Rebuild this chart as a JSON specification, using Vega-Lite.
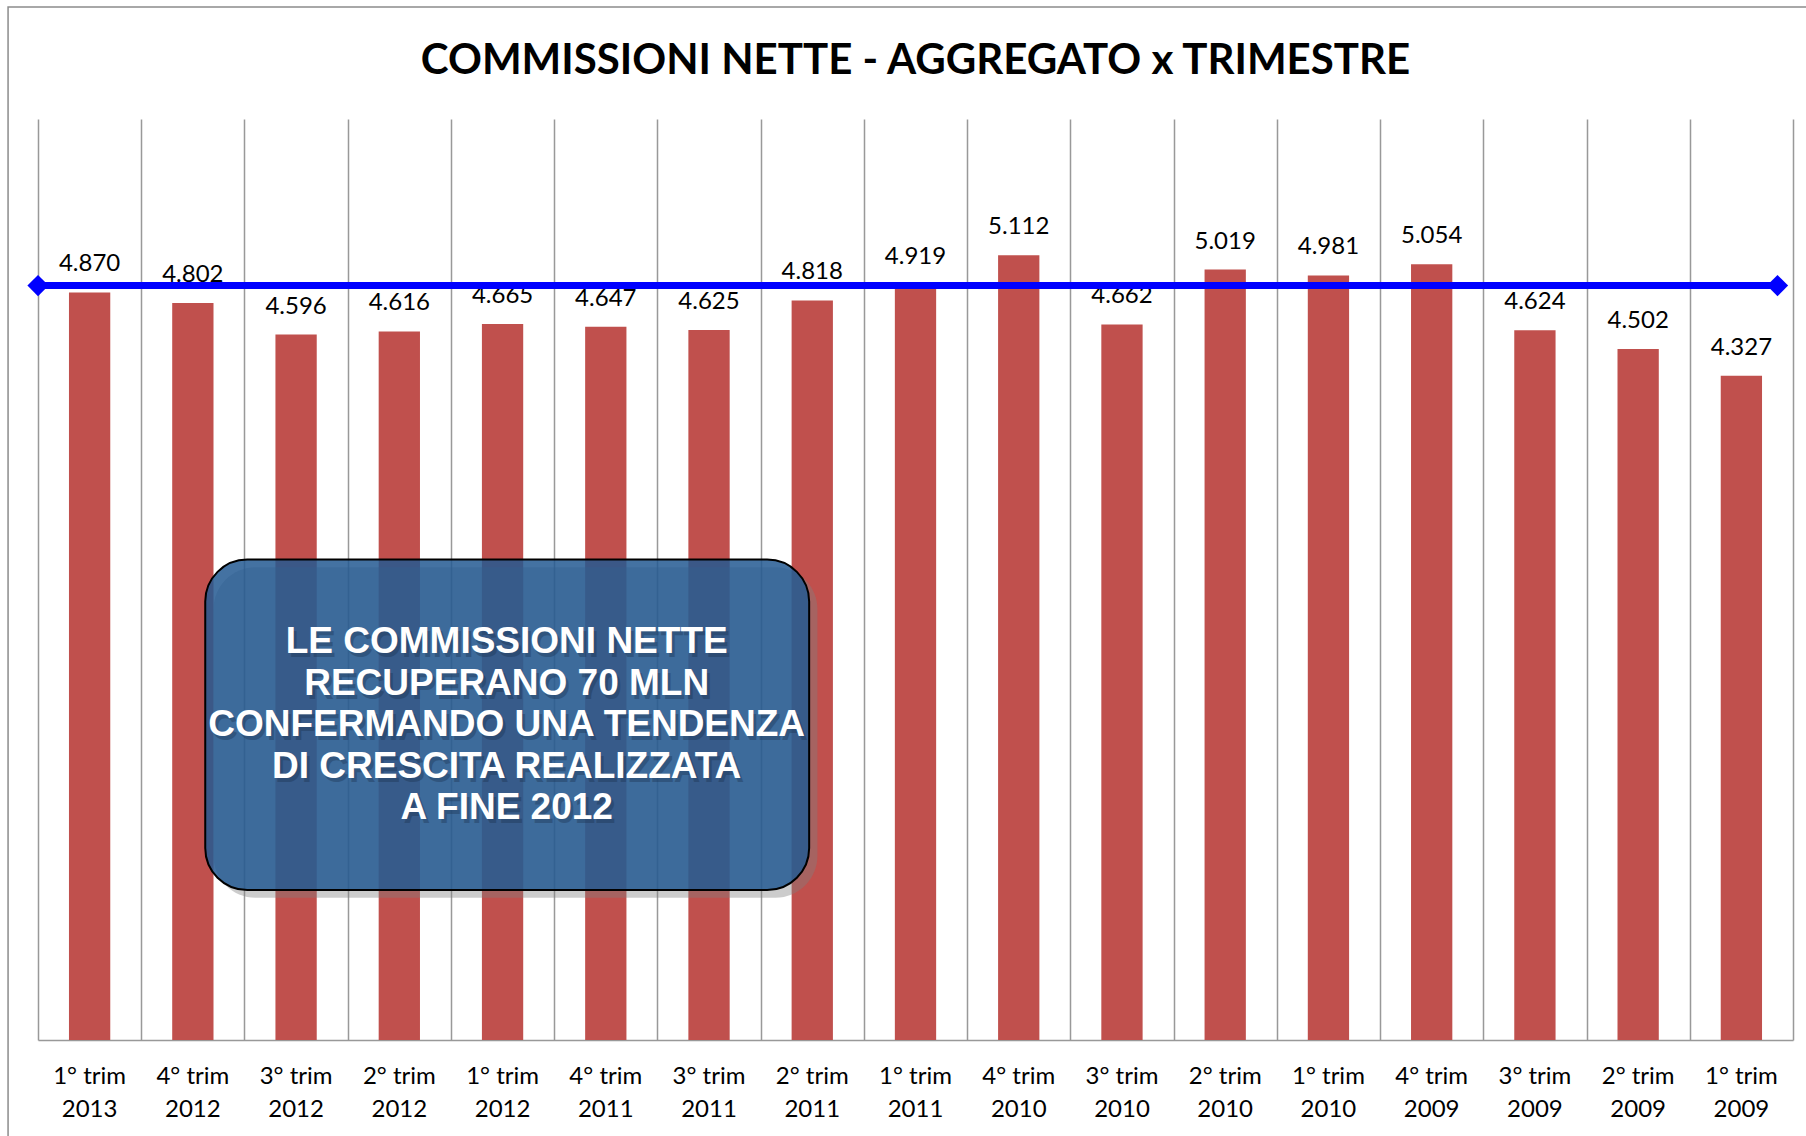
{
  "$schema": "https://vega.github.io/schema/vega-lite/v6.json",
  "width": 1755,
  "height": 921,
  "autosize": {"type": "none"},
  "padding": {"left": 38, "top": 119, "right": 13, "bottom": 96},
  "background": "white",
  "config": {
    "view": {"stroke": null},
    "locale": {"number": {"decimal": ",", "thousands": ".", "grouping": [3], "currency": ["€", ""]}}
  },
  "data": {
    "values": [
      {"quarter": "1° trim 2013", "value": 4870},
      {"quarter": "4° trim 2012", "value": 4802},
      {"quarter": "3° trim 2012", "value": 4596},
      {"quarter": "2° trim 2012", "value": 4616},
      {"quarter": "1° trim 2012", "value": 4665},
      {"quarter": "4° trim 2011", "value": 4647},
      {"quarter": "3° trim 2011", "value": 4625},
      {"quarter": "2° trim 2011", "value": 4818},
      {"quarter": "1° trim 2011", "value": 4919},
      {"quarter": "4° trim 2010", "value": 5112},
      {"quarter": "3° trim 2010", "value": 4662},
      {"quarter": "2° trim 2010", "value": 5019},
      {"quarter": "1° trim 2010", "value": 4981},
      {"quarter": "4° trim 2009", "value": 5054},
      {"quarter": "3° trim 2009", "value": 4624},
      {"quarter": "2° trim 2009", "value": 4502},
      {"quarter": "1° trim 2009", "value": 4327}
    ]
  },
  "layer": [
    {
      "data": {"values": [{}]},
      "mark": {"type": "rect", "fill": null, "stroke": "#8c8c8c", "strokeWidth": 1.5},
      "encoding": {
        "x": {"datum": -0.29, "type": "quantitative", "scale": {"domain": [0, 17], "nice": false, "zero": false},
              "axis": {"orient": "top", "values": [0,1,2,3,4,5,6,7,8,9,10,11,12,13,14,15,16,17], "grid": true, "gridColor": "#999999", "gridWidth": 1.5, "labels": false, "ticks": false, "domain": false, "title": null}},
        "x2": {"datum": 17.4},
        "y": {"datum": 6730, "type": "quantitative", "scale": {"domain": [0, 6000], "nice": false, "zero": true}, "axis": null},
        "y2": {"datum": -800}
      }
    },
    {
      "data": {"values": [{"title": "COMMISSIONI NETTE - AGGREGATO x TRIMESTRE"}]},
      "mark": {"type": "text", "font": "Lato", "fontSize": 42, "fontWeight": "bold", "color": "black", "align": "center", "baseline": "alphabetic"},
      "encoding": {
        "x": {"datum": 8.5, "type": "quantitative", "scale": {"domain": [0, 17], "nice": false, "zero": false}, "axis": null},
        "y": {"datum": 6293, "type": "quantitative", "axis": null},
        "text": {"field": "title"}
      }
    },
    {
      "mark": {"type": "bar", "color": "#C0504D"},
      "encoding": {
        "x": {
          "field": "quarter",
          "type": "nominal",
          "sort": null,
          "scale": {"paddingInner": 0.6, "paddingOuter": 0.3},
          "axis": {
            "orient": "bottom",
            "title": null,
            "grid": false,
            "domainColor": "#999999",
            "domainWidth": 1.5,
            "ticks": false,
            "labelAngle": 0,
            "labelFont": "Lato",
            "labelFontSize": 24,
            "labelColor": "black",
            "labelLineHeight": 33,
            "labelPadding": 24,
            "labelBaseline": "top",
            "labelExpr": "[slice(datum.value, 0, 7), slice(datum.value, 8)]"
          }
        },
        "y": {"field": "value", "type": "quantitative", "axis": null}
      }
    },
    {
      "mark": {"type": "text", "dy": -28, "baseline": "middle", "align": "center", "font": "Lato", "fontSize": 24, "color": "black"},
      "encoding": {
        "x": {"field": "quarter", "type": "nominal", "sort": null, "scale": {"type": "band", "paddingInner": 0.6, "paddingOuter": 0.3}, "axis": null},
        "y": {"field": "value", "type": "quantitative", "axis": null},
        "text": {"field": "value", "type": "quantitative", "format": ",d"}
      }
    },
    {
      "data": {"values": [{}]},
      "mark": {"type": "rect", "fill": "#7f7f7f", "opacity": 0.4, "cornerRadius": 42},
      "encoding": {
        "x": {"datum": 1.7, "type": "quantitative", "scale": {"domain": [0, 17], "nice": false, "zero": false}, "axis": null},
        "x2": {"datum": 7.55},
        "y": {"datum": 3080, "type": "quantitative", "axis": null},
        "y2": {"datum": 927}
      }
    },
    {
      "data": {"values": [{}]},
      "mark": {"type": "rect", "fill": "#235992", "fillOpacity": 0.85, "stroke": "black", "strokeWidth": 2, "cornerRadius": 42},
      "encoding": {
        "x": {"datum": 1.62, "type": "quantitative", "scale": {"domain": [0, 17], "nice": false, "zero": false}, "axis": null},
        "x2": {"datum": 7.47},
        "y": {"datum": 3130, "type": "quantitative", "axis": null},
        "y2": {"datum": 977}
      }
    },
    {
      "data": {"values": [{}]},
      "mark": {"type": "rule", "color": "#0000FF", "strokeWidth": 7},
      "encoding": {
        "x": {"datum": 0, "type": "quantitative", "scale": {"domain": [0, 17], "nice": false, "zero": false}, "axis": null},
        "x2": {"datum": 16.85},
        "y": {"datum": 4915, "type": "quantitative", "axis": null}
      }
    },
    {
      "data": {"values": [{}]},
      "mark": {"type": "point", "shape": "diamond", "filled": true, "color": "#0000FF", "opacity": 1, "size": 450},
      "encoding": {
        "x": {"datum": 0, "type": "quantitative", "scale": {"domain": [0, 17], "nice": false, "zero": false}, "axis": null},
        "y": {"datum": 4915, "type": "quantitative", "axis": null}
      }
    },
    {
      "data": {"values": [{}]},
      "mark": {"type": "point", "shape": "diamond", "filled": true, "color": "#0000FF", "opacity": 1, "size": 450},
      "encoding": {
        "x": {"datum": 16.85, "type": "quantitative", "scale": {"domain": [0, 17], "nice": false, "zero": false}, "axis": null},
        "y": {"datum": 4915, "type": "quantitative", "axis": null}
      }
    },
    {
      "data": {"values": [{}]},
      "mark": {
        "type": "text",
        "text": ["LE COMMISSIONI NETTE", "RECUPERANO 70 MLN", "CONFERMANDO UNA TENDENZA", "DI CRESCITA REALIZZATA", "A FINE 2012"],
        "font": "Liberation Sans",
        "fontWeight": "bold",
        "fontSize": 37,
        "lineHeight": 41.5,
        "align": "center",
        "baseline": "middle",
        "color": "#1a2f4a",
        "opacity": 0.35,
        "dx": 3,
        "dy": 4
      },
      "encoding": {
        "x": {"datum": 4.54, "type": "quantitative", "scale": {"domain": [0, 17], "nice": false, "zero": false}, "axis": null},
        "y": {"datum": 2590, "type": "quantitative", "axis": null}
      }
    },
    {
      "data": {"values": [{}]},
      "mark": {
        "type": "text",
        "text": ["LE COMMISSIONI NETTE", "RECUPERANO 70 MLN", "CONFERMANDO UNA TENDENZA", "DI CRESCITA REALIZZATA", "A FINE 2012"],
        "font": "Liberation Sans",
        "fontWeight": "bold",
        "fontSize": 37,
        "lineHeight": 41.5,
        "align": "center",
        "baseline": "middle",
        "color": "white"
      },
      "encoding": {
        "x": {"datum": 4.54, "type": "quantitative", "scale": {"domain": [0, 17], "nice": false, "zero": false}, "axis": null},
        "y": {"datum": 2590, "type": "quantitative", "axis": null}
      }
    }
  ],
  "resolve": {"scale": {"x": "independent"}, "axis": {"x": "independent"}}
}
